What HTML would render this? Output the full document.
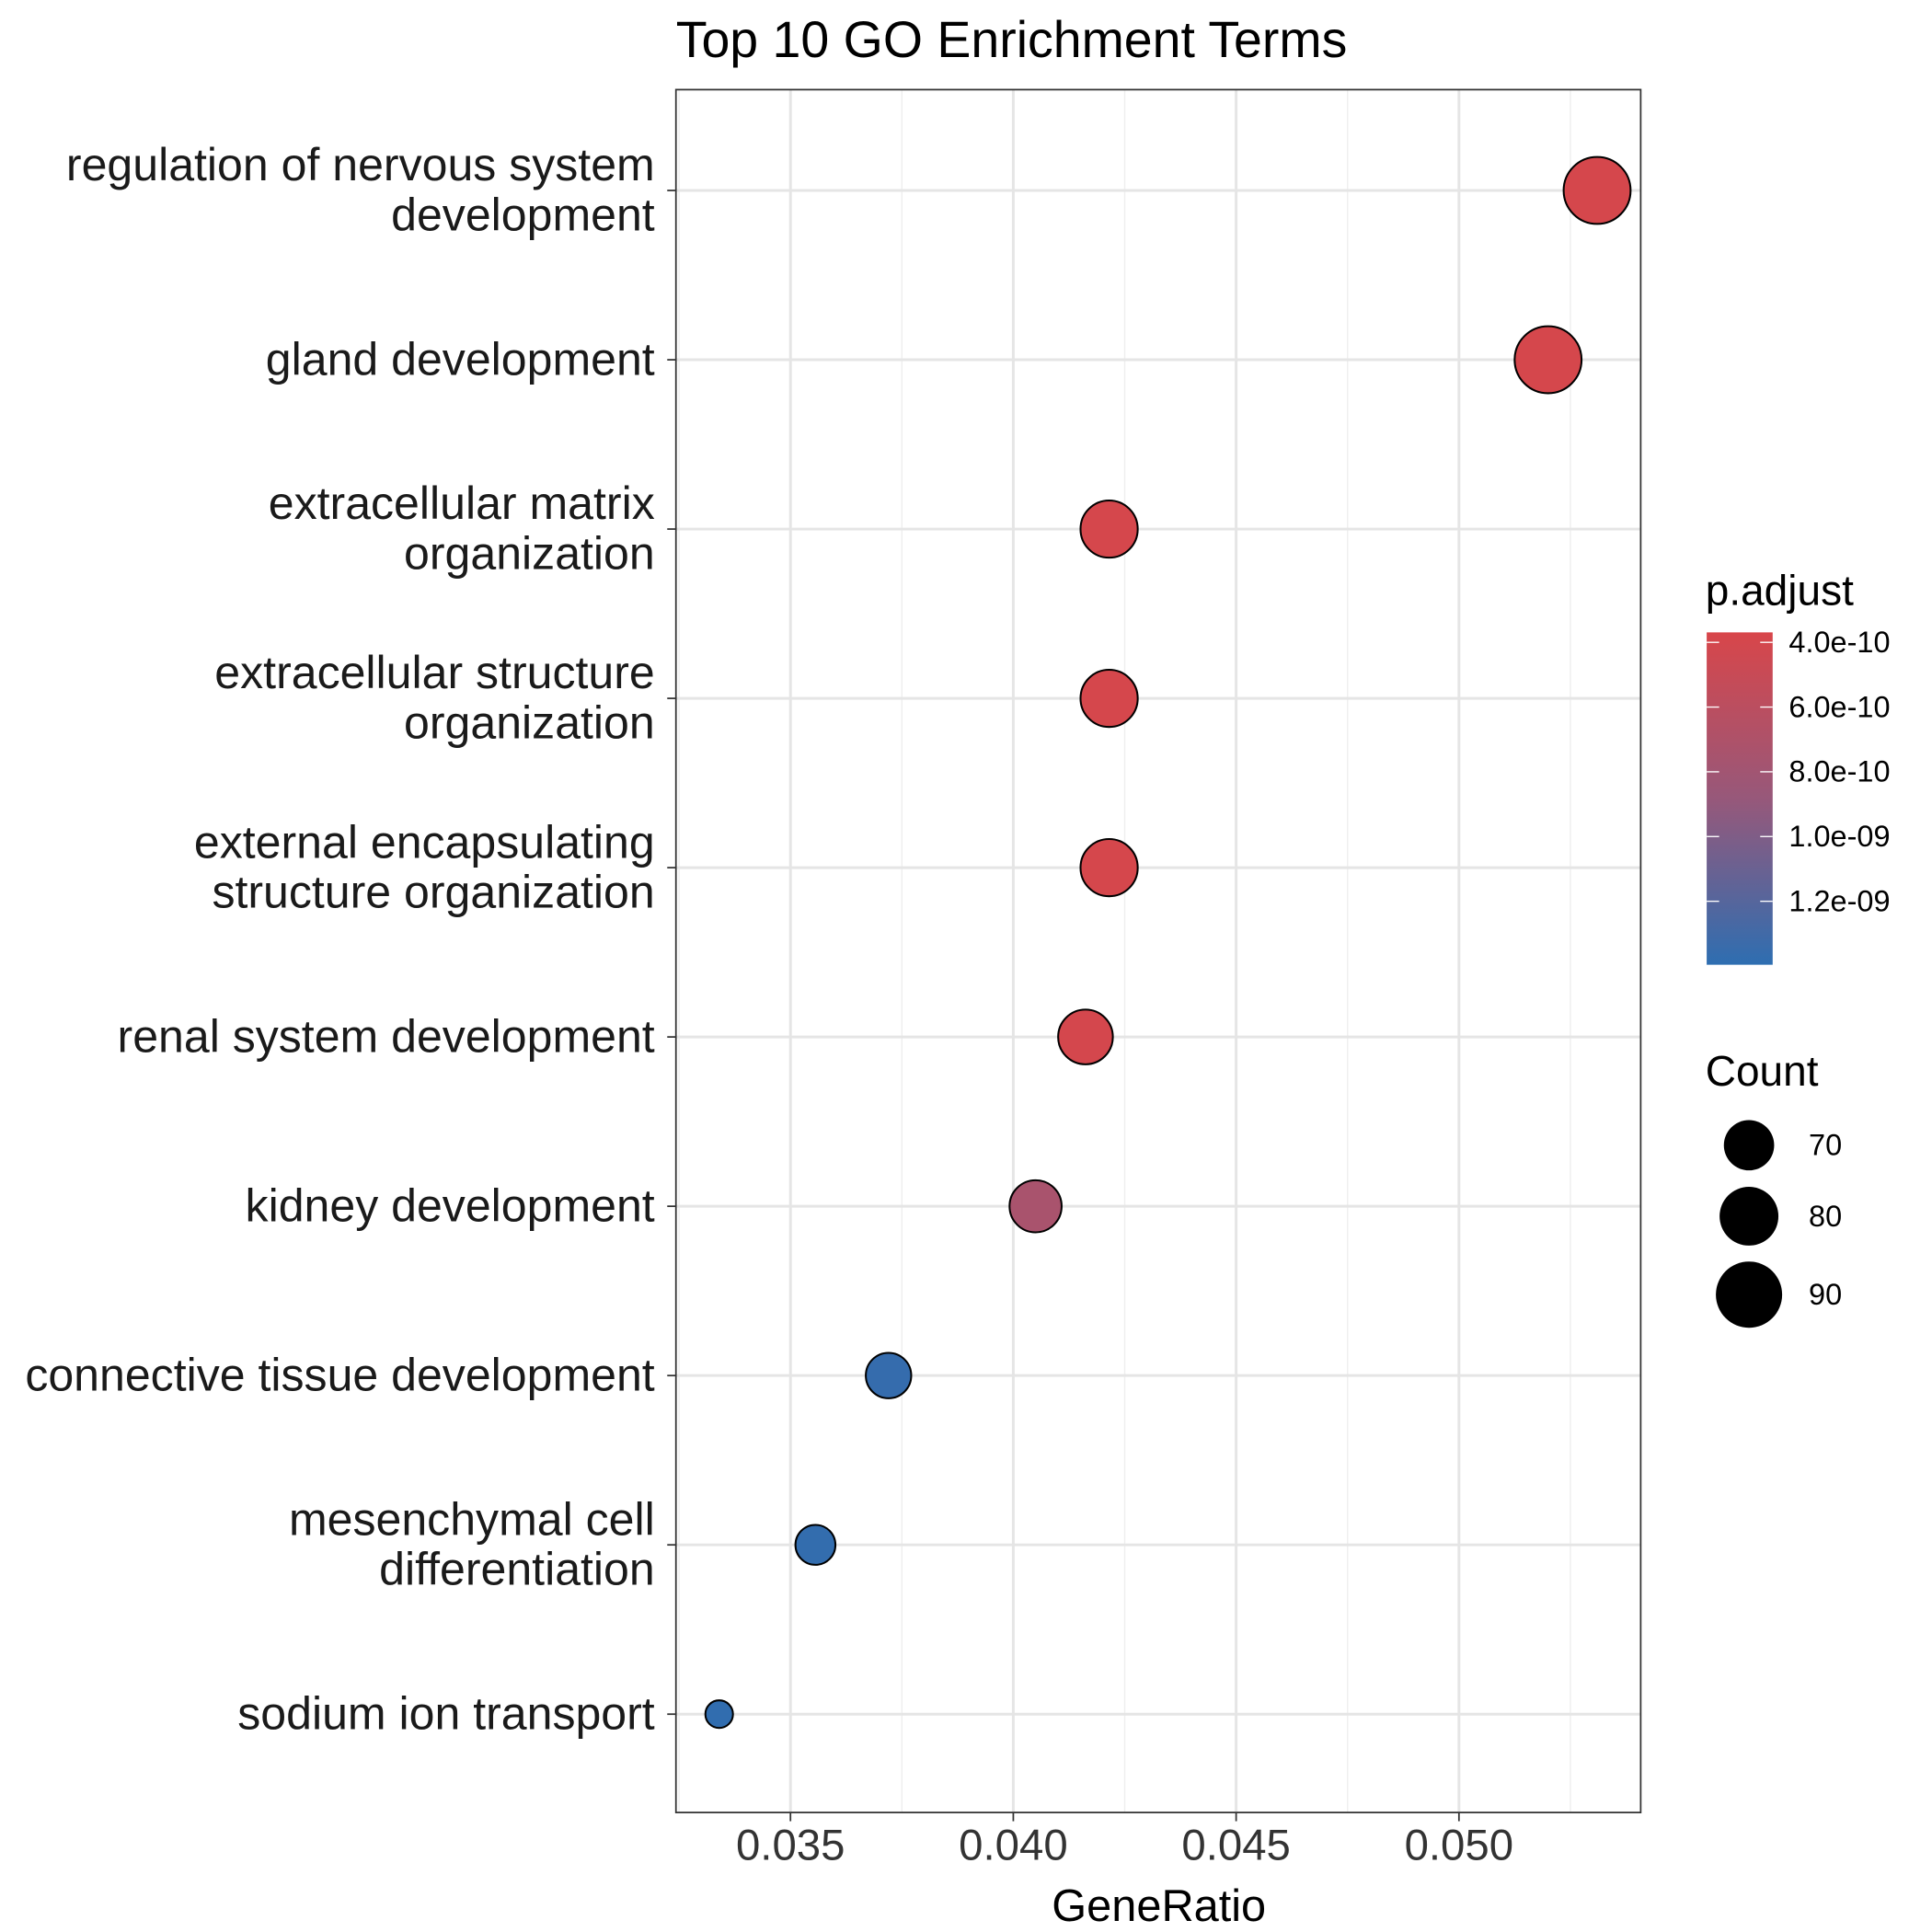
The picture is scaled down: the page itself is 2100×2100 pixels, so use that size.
<!DOCTYPE html>
<html><head><meta charset="utf-8"><style>html,body{margin:0;padding:0;background:#fff}svg{display:block}text{font-family:"Liberation Sans",Arial,sans-serif}</style></head>
<body>
<svg id="chart" width="2100" height="2100" viewBox="0 0 1552 1552" xmlns="http://www.w3.org/2000/svg">
<defs><linearGradient id="cbar" x1="0" y1="0" x2="0" y2="1">
<stop offset="0" stop-color="#d8464a"/><stop offset="0.5" stop-color="#97587a"/><stop offset="1" stop-color="#2e6eb1"/></linearGradient></defs>
<text x="543" y="46" font-size="41">Top 10 GO Enrichment Terms</text>
<rect x="543" y="72" width="775" height="1384" fill="#fff"/>
<g id="grid"></g><g id="yaxis"></g><g id="xaxis"></g><g id="points"></g>
<rect x="543" y="72" width="775" height="1384" fill="none" stroke="#333" stroke-width="1.3"/>
<text x="931" y="1543" font-size="36" text-anchor="middle">GeneRatio</text>
<text x="1370" y="486" font-size="34">p.adjust</text>
<rect x="1371" y="508" width="53" height="267" fill="url(#cbar)"/>
<g id="clegend"></g>
<text x="1370" y="872" font-size="34">Count</text>
<g id="slegend"></g>
</svg>
<script>
const terms=["regulation of nervous system|development","gland development","extracellular matrix|organization","extracellular structure|organization","external encapsulating|structure organization","renal system development","kidney development","connective tissue development","mesenchymal cell|differentiation","sodium ion transport"];
const geneRatio=[0.0531,0.0520,0.04215,0.04215,0.04215,0.04162,0.0405,0.0372,0.03556,0.0334];
const counts=[91,91,78,78,78,75,72,65,60,51];
const padj=[3.9e-10,3.9e-10,3.9e-10,3.9e-10,3.9e-10,4.0e-10,7.4e-10,1.36e-9,1.37e-9,1.38e-9];
const xTicks=[0.035,0.040,0.045,0.050];
const xTickLabels=["0.035","0.040","0.045","0.050"];
const cTicks=[4e-10,6e-10,8e-10,1.0e-9,1.2e-9];
const cTickLabels=["4.0e-10","6.0e-10","8.0e-10","1.0e-09","1.2e-09"];
const sizeBreaks=[70,80,90];

const NS="http://www.w3.org/2000/svg";
function mk(tag,attrs,parent){const e=document.createElementNS(NS,tag);for(const k in attrs)e.setAttribute(k,attrs[k]);parent.appendChild(e);return e;}
const X=v=>635+(v-0.035)*35800;
const Y=i=>153+i*136;
const R=c=>Math.sqrt(Math.max(15*c-642,20));
const cY=v=>516+(v-4e-10)*2.6e11;
function col(p){let t=(p-3.7e-10)/(1.396e-9-3.7e-10);t=Math.max(0,Math.min(1,t));
 const a=[216,70,74],m=[151,88,122],b=[46,110,177];let c;
 if(t<0.5){const u=t*2;c=a.map((v,k)=>v+(m[k]-v)*u);}else{const u=(t-0.5)*2;c=m.map((v,k)=>v+(b[k]-v)*u);}
 return `rgb(${c.map(Math.round).join(",")})`;}
const grid=document.getElementById('grid'),ya=document.getElementById('yaxis'),xa=document.getElementById('xaxis'),pts=document.getElementById('points');
for(let i=0;i<xTicks.length;i++){
 const x=X(xTicks[i]);
 const g=mk('line',{x1:x,x2:x,y1:72,y2:1456,stroke:'#e5e5e5','stroke-width':2.2},grid);
 
 if(i<xTicks.length-1){const xm=X((xTicks[i]+xTicks[i+1])/2);const gm=mk('line',{x1:xm,x2:xm,y1:72,y2:1456,stroke:'#efefef','stroke-width':1.1},grid);
 }
 mk('line',{x1:x,x2:x,y1:1456,y2:1463,stroke:'#333','stroke-width':1.3},xa);
 const t=mk('text',{x:x,y:1494,'font-size':35,'text-anchor':'middle',fill:'#333'},xa);t.textContent=xTickLabels[i];
 
}
{const xm=X(xTicks[0]-0.0025);mk('line',{x1:xm,x2:xm,y1:72,y2:1456,stroke:'#efefef','stroke-width':1.1},grid);
 const xm2=X(xTicks[3]+0.0025);mk('line',{x1:xm2,x2:xm2,y1:72,y2:1456,stroke:'#efefef','stroke-width':1.1},grid);}
terms.forEach((t,i)=>{
 const y=Y(i);
 const g=mk('line',{x1:543,x2:1318,y1:y,y2:y,stroke:'#e5e5e5','stroke-width':2.2},grid);
 
 mk('line',{x1:536,x2:543,y1:y,y2:y,stroke:'#333','stroke-width':1.3},ya);
 const lines=t.split('|');
 const tx=mk('text',{x:526,'font-size':37,'text-anchor':'end',fill:'#1a1a1a'},ya);
 
 const y0=lines.length===1?y+12:y-8;
 lines.forEach((l,k)=>{const s=mk('tspan',{x:526,y:y0+k*40},tx);s.textContent=l;});
 const c=mk('circle',{cx:X(geneRatio[i]),cy:y,r:R(counts[i]),fill:col(padj[i]),stroke:'#000','stroke-width':1.5},pts);
 
 
});
const cl=document.getElementById('clegend');
cTicks.forEach((v,i)=>{const y=cY(v);
 mk('line',{x1:1371,x2:1381,y1:y,y2:y,stroke:'#fff','stroke-width':1},cl);mk('line',{x1:1414,x2:1424,y1:y,y2:y,stroke:'#fff','stroke-width':1},cl);
 const t=mk('text',{x:1437,y:y+8,'font-size':24},cl);t.textContent=cTickLabels[i];
 });
const sl=document.getElementById('slegend');
const sy=[920,977,1040];
sizeBreaks.forEach((v,i)=>{
 const c=mk('circle',{cx:1405,cy:sy[i],r:R(v),fill:'#000'},sl);
 
 const t=mk('text',{x:1453,y:sy[i]+8,'font-size':24},sl);t.textContent=v;
 });
</script>
</body></html>
